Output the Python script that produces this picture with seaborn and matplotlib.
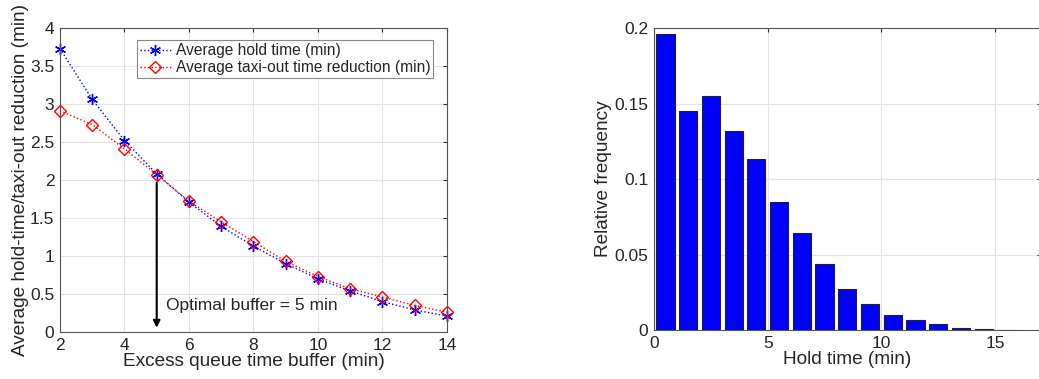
import matplotlib
matplotlib.use("Agg")
import matplotlib.pyplot as plt
import seaborn as sns
import numpy as np
import pandas as pd

# ---- data ----
buffer_min = [2, 3, 4, 5, 6, 7, 8, 9, 10, 11, 12, 13, 14]
avg_hold = [3.73, 3.06, 2.52, 2.08, 1.71, 1.39, 1.13, 0.90, 0.70, 0.54, 0.40, 0.29, 0.21]
avg_taxi_red = [2.91, 2.73, 2.41, 2.07, 1.72, 1.45, 1.19, 0.93, 0.73, 0.57, 0.46, 0.35, 0.26]

hold_bin_centers = [0.5, 1.5, 2.5, 3.5, 4.5, 5.5, 6.5, 7.5, 8.5, 9.5, 10.5, 11.5, 12.5, 13.5, 14.5, 15.5]
rel_freq = [0.196, 0.145, 0.155, 0.132, 0.113, 0.085, 0.064, 0.044, 0.027, 0.017,
            0.010, 0.0065, 0.004, 0.0015, 0.0008, 0.0004]

label_hold = "Average hold time (min)"
label_taxi = "Average taxi-out time reduction (min)"

sns.set_style("whitegrid")
plt.rcParams['font.family'] = ['Liberation Sans', 'DejaVu Sans']
plt.rcParams['xtick.direction'] = 'in'
plt.rcParams['ytick.direction'] = 'in'

fig = plt.figure(figsize=(10.39, 3.79), dpi=100)
ax1 = fig.add_axes([0.0577, 0.124, 0.3725, 0.802])
ax2 = fig.add_axes([0.6295, 0.129, 0.3720, 0.797])

grid_kw = dict(color='#e3e3e3', linewidth=0.8)

# ---- left panel ----
df = pd.DataFrame({"buffer": buffer_min, "hold": avg_hold, "taxi": avg_taxi_red})
sns.lineplot(data=df, x="buffer", y="hold", ax=ax1, color='blue', linestyle=':', linewidth=1.0,
             marker=(6, 2, 0), markersize=8, markeredgecolor='blue', markeredgewidth=1.0,
             label=label_hold, clip_on=False)
sns.lineplot(data=df, x="buffer", y="taxi", ax=ax1, color='red', linestyle=':', linewidth=1.0,
             marker='D', markersize=6.5, markerfacecolor='none', markeredgecolor='red',
             markeredgewidth=1.0, label=label_taxi, clip_on=False)
ax1.set_xlim(2, 14)
ax1.set_ylim(0, 4)
ax1.set_xticks([2, 4, 6, 8, 10, 12, 14])
ax1.set_yticks([0, 0.5, 1, 1.5, 2, 2.5, 3, 3.5, 4])
ax1.set_yticklabels(['0', '0.5', '1', '1.5', '2', '2.5', '3', '3.5', '4'])
ax1.set_xlabel("Excess queue time buffer (min)", fontsize=13.7, labelpad=0)
ax1.set_ylabel("Average hold-time/taxi-out reduction (min)", fontsize=13.7, labelpad=1)
ax1.grid(True, **grid_kw)
ax1.tick_params(labelsize=12.5, length=3, color='#333333', pad=4, top=True, right=True)
for s in ax1.spines.values():
    s.set_color('#555555'); s.set_linewidth(0.8)
leg = ax1.legend(loc='upper right', fontsize=11.2, frameon=True, fancybox=False,
                 edgecolor='#888888', framealpha=1, borderpad=0.2, labelspacing=0.1,
                 handlelength=2.0, handletextpad=0.3, bbox_to_anchor=(0.985, 0.985))
leg.get_frame().set_linewidth(0.8)
ax1.annotate("", xy=(5, 0.02), xytext=(5, 2.0),
             arrowprops=dict(arrowstyle='-|>', color='black', lw=1.5, mutation_scale=10))
ax1.text(5.3, 0.35, "Optimal buffer = 5 min", fontsize=12.5, va='center', ha='left')

# ---- right panel ----
df2 = pd.DataFrame({"center": hold_bin_centers, "freq": rel_freq})
sns.barplot(data=df2, x="center", y="freq", ax=ax2, native_scale=True, color='#0000ff',
            saturation=1, edgecolor='#222222', linewidth=0.8, width=0.8)
ax2.set_xlim(0, 17)
ax2.set_ylim(0, 0.2)
ax2.set_xticks([0, 5, 10, 15])
ax2.set_xticklabels(['0', '5', '10', '15'])
ax2.set_yticks([0, 0.05, 0.1, 0.15, 0.2])
ax2.set_yticklabels(['0', '0.05', '0.1', '0.15', '0.2'])
ax2.set_xlabel("Hold time (min)", fontsize=13.7, labelpad=0)
ax2.set_ylabel("Relative frequency", fontsize=13.7, labelpad=2)
ax2.grid(True, **grid_kw)
ax2.set_axisbelow(True)
ax2.tick_params(labelsize=12.5, length=3, color='#333333', pad=4, top=True, right=True)
for s in ax2.spines.values():
    s.set_color('#555555'); s.set_linewidth(0.8)

fig.savefig("out.png", dpi=100)
